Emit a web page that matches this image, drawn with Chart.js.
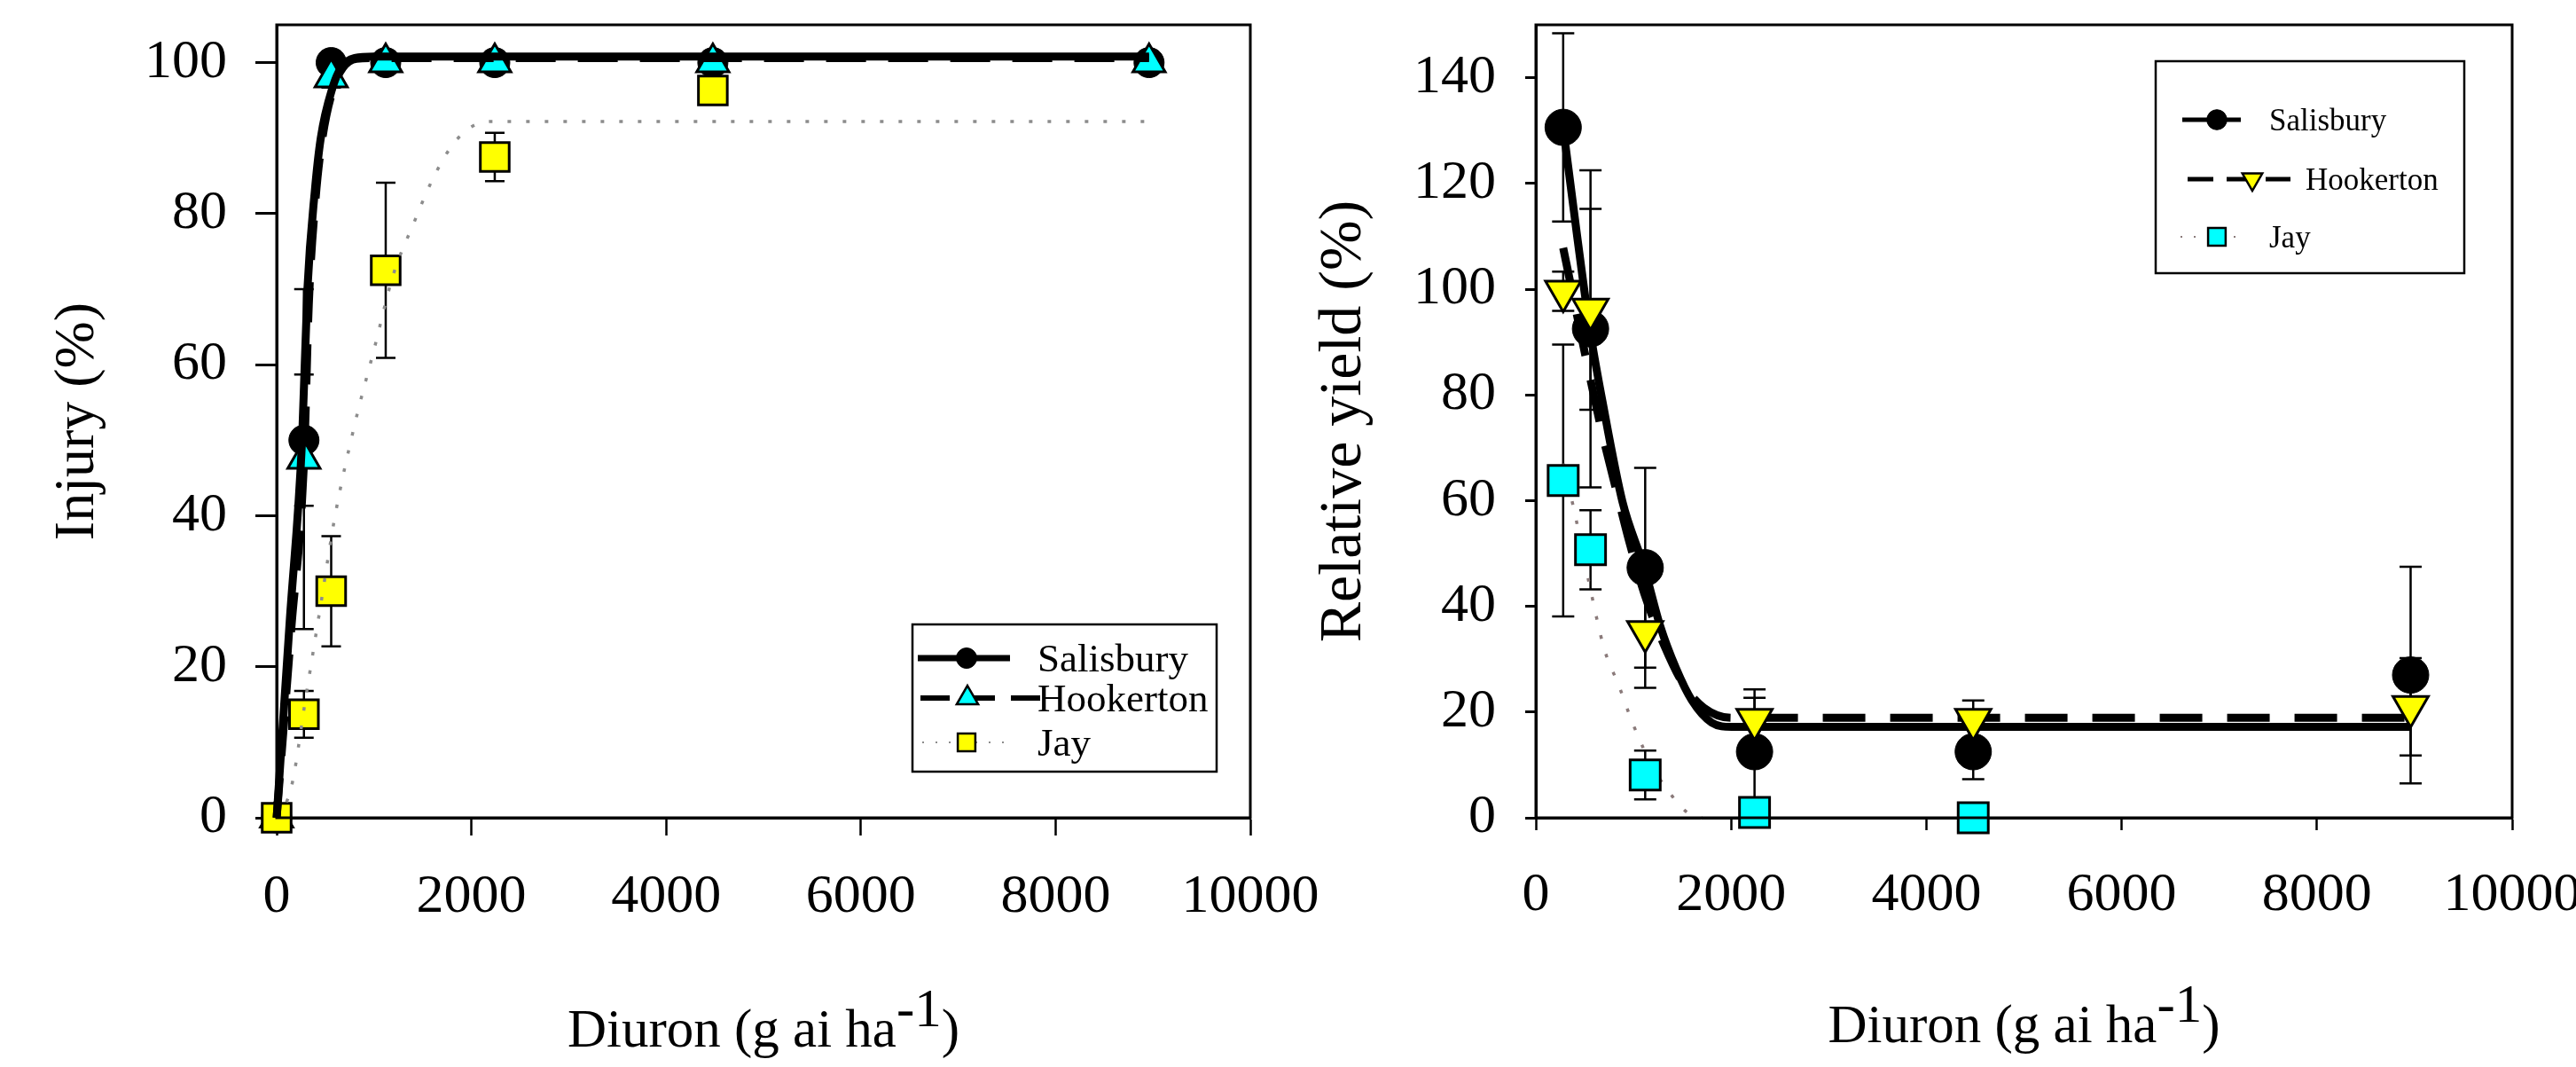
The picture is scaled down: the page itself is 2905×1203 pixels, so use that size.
<!DOCTYPE html>
<html><head><meta charset="utf-8">
<script src="https://cdn.jsdelivr.net/npm/chart.js@4.4.1/dist/chart.umd.min.js"></script>
<style>
html,body{margin:0;padding:0;background:#fff;overflow:hidden;width:2905px;height:1203px;}
#c1{position:absolute;left:0;top:0;}
#c2{position:absolute;left:1450px;top:0;}
</style></head><body>
<canvas id="c1" width="1530" height="1203"></canvas>
<canvas id="c2" width="1463" height="1203"></canvas>
<script>
// ---------- DATA ----------
const xTicks = [0, 2000, 4000, 6000, 8000, 10000];
const injuryTicks = [0, 20, 40, 60, 80, 100];
const yieldTicks = [0, 20, 40, 60, 80, 100, 120, 140];

// Injury (%) observations
const injuryRates = [0, 280, 560, 1120, 2240, 4480, 8960];
const injurySalisbury = [0, 50, 100, 100, 100, 100, 100];
const injurySalisburyErr = [0, 8.7, 0, 0, 0, 0, 0];
const injuryHookerton = [0, 47.5, 98, 100, 100, 100, 100];
const injuryHookertonErr = [0, 22.5, 1.3, 0, 0, 0, 0];
const injuryJay = [0, 13.7, 30, 72.5, 87.5, 96.3, null];
const injuryJayErr = [0, 3.1, 7.3, 11.6, 3.2, 0, 0];

// Injury fitted curves
const injFitSalisburyX = [0, 134, 261, 316, 392, 453, 574, 665, 802, 1000, 8960];
const injFitSalisburyY = [0, 26, 50, 70, 83, 90, 96.7, 99.4, 100.6, 100.8, 100.8];
const injFitHookertonX = [0, 150, 280, 330, 400, 470, 580, 680, 820, 1000, 8960];
const injFitHookertonY = [0, 25, 47, 68, 82, 90, 96.5, 99.3, 100.5, 100.6, 100.6];
const injFitJayX = [0, 150, 300, 450, 600, 800, 1000, 1200, 1400, 1600, 1800, 2000, 2200, 8960];
const injFitJayY = [0, 4, 16, 28, 40, 52, 62, 72, 78.5, 84.5, 89, 91.5, 92.2, 92.2];

// Relative yield (%) observations
const yieldRates = [280, 560, 1120, 2240, 4480, 8960];
const yieldSalisbury = [130.6, 92.5, 47.3, 12.5, 12.5, 27];
const yieldSalisburyErr = [17.8, 30, 18.9, 11.8, 5.2, 20.5];
const yieldHookerton = [99.6, 96.2, 35.2, 18.6, 18.6, 21];
const yieldHookertonErr = [3.7, 19, 10.6, 4.1, 3.6, 9.2];
const yieldJay = [63.8, 50.7, 8.1, 1, 0, null];
const yieldJayErr = [25.7, 7.5, 4.6, 0, 0, 0];

// Relative yield fitted curves
const yldFitSalisburyX = [280, 419, 554, 683, 887, 1110, 1273, 1435, 1598, 1801, 2004, 8960];
const yldFitSalisburyY = [130.6, 110.6, 92.3, 78.7, 59.8, 47.3, 36.3, 28.3, 22.2, 18, 17.2, 17.2];
const yldFitHookertonX = [280, 501, 664, 827, 969, 1111, 1315, 1519, 1722, 2005, 8960];
const yldFitHookertonY = [107.8, 88, 74, 61.7, 51.4, 42.4, 32.6, 25, 20.8, 18.9, 18.9];
const yldFitJayX = [280, 400, 550, 700, 850, 1000, 1200, 1400, 1580, 1700];
const yldFitJayY = [67, 57.5, 44, 32, 25, 17.5, 9.5, 4, 0.6, 0];

// ---------- HELPERS ----------
const FONT = '"Liberation Serif", "Times New Roman", serif';
function pts(xs, ys, es) {
  const out = [];
  xs.forEach((x, i) => { if (ys[i] !== null && ys[i] !== undefined) out.push({x: x, y: ys[i], e: es ? es[i] : 0}); });
  return out;
}

const errorBarPlugin = {
  id: 'errorBars',
  beforeDatasetsDraw(chart, args, o) {
    const ctx = chart.ctx, xs = chart.scales.x, ys = chart.scales.y;
    ctx.save(); ctx.strokeStyle = '#000'; ctx.lineWidth = o.lineWidth;
    chart.data.datasets.forEach(ds => {
      if (!ds.hasErrors) return;
      ds.data.forEach(p => {
        if (!p.e) return;
        const px = xs.getPixelForValue(p.x);
        const t = ys.getPixelForValue(p.y + p.e), b = ys.getPixelForValue(p.y - p.e);
        ctx.beginPath();
        ctx.moveTo(px, t); ctx.lineTo(px, b);
        ctx.moveTo(px - o.cap / 2, t); ctx.lineTo(px + o.cap / 2, t);
        ctx.moveTo(px - o.cap / 2, b); ctx.lineTo(px + o.cap / 2, b);
        ctx.stroke();
      });
    });
    ctx.restore();
  }
};

const framePlugin = {
  id: 'frame',
  afterDraw(chart, args, o) {
    const ctx = chart.ctx, a = chart.chartArea;
    ctx.save(); ctx.strokeStyle = '#000'; ctx.lineWidth = o.width;
    ctx.strokeRect(a.left, a.top, a.right - a.left, a.bottom - a.top);
    ctx.restore();
  }
};

const titlePlugin = {
  id: 'titles',
  afterDraw(chart, args, o) {
    const ctx = chart.ctx, a = chart.chartArea;
    ctx.save();
    ctx.fillStyle = '#000';
    ctx.font = o.ySize + 'px ' + FONT;
    ctx.translate(o.yX, (a.top + a.bottom) / 2);
    ctx.rotate(-Math.PI / 2);
    ctx.textAlign = 'center'; ctx.textBaseline = 'middle';
    ctx.fillText(o.yText, 0, 0);
    ctx.restore();

    ctx.save();
    ctx.fillStyle = '#000';
    ctx.font = o.xSize + 'px ' + FONT;
    ctx.textAlign = 'left'; ctx.textBaseline = 'alphabetic';
    const wa = ctx.measureText(o.xMain).width, ws = ctx.measureText(o.xSup).width, wc = ctx.measureText(o.xEnd).width;
    let x = (a.left + a.right) / 2 - (wa + ws + wc) / 2;
    ctx.fillText(o.xMain, x, o.xBase); x += wa;
    ctx.fillText(o.xSup, x, o.xBase - o.supRaise); x += ws;
    ctx.fillText(o.xEnd, x, o.xBase);
    ctx.restore();
  }
};

const boxLegendPlugin = {
  id: 'boxLegend',
  afterDraw(chart, args, o) {
    const ctx = chart.ctx;
    ctx.save();
    ctx.fillStyle = '#fff';
    ctx.fillRect(o.box[0], o.box[1], o.box[2] - o.box[0], o.box[3] - o.box[1]);
    ctx.strokeStyle = '#000'; ctx.lineWidth = o.boxLine;
    ctx.strokeRect(o.box[0], o.box[1], o.box[2] - o.box[0], o.box[3] - o.box[1]);
    o.rows.forEach(r => {
      const mk = chart.data.datasets.find(d => d.label === r.name);
      const cv = chart.data.datasets.find(d => d.label === r.name + ' fit');
      ctx.save();
      ctx.strokeStyle = cv.borderColor; ctx.lineWidth = r.lineWidth;
      ctx.setLineDash(r.dash || []);
      ctx.beginPath(); ctx.moveTo(r.x1, r.y); ctx.lineTo(r.x2, r.y); ctx.stroke();
      ctx.restore();
      ctx.save();
      ctx.fillStyle = mk.pointBackgroundColor; ctx.strokeStyle = mk.pointBorderColor; ctx.lineWidth = r.mbw;
      Chart.helpers.drawPoint(ctx, {pointStyle: mk.pointStyle, rotation: mk.pointRotation || 0, radius: r.radius, borderWidth: r.mbw}, r.mx, r.y);
      ctx.restore();
      ctx.fillStyle = '#000';
      ctx.font = o.fontSize + 'px ' + FONT;
      ctx.textAlign = 'left'; ctx.textBaseline = 'alphabetic';
      ctx.fillText(r.name, r.tx, r.y + o.fontSize * 0.33);
    });
    ctx.restore();
  }
};

function axisX(tickLen, pad, height) {
  return {
    type: 'linear', position: 'bottom', min: 0, max: 10000,
    afterBuildTicks: s => { s.ticks = xTicks.map(v => ({value: v})); },
    afterFit: s => { s.height = height; s.paddingLeft = 0; s.paddingRight = 0; },
    ticks: {font: {family: FONT, size: 62}, color: '#000', padding: pad, maxRotation: 0, autoSkip: false, callback: v => String(v)},
    grid: {display: true, drawOnChartArea: false, drawTicks: true, tickLength: tickLen, tickWidth: 2.5, tickColor: '#000', color: '#000'},
    border: {display: true, color: '#000', width: 3}
  };
}
function axisY(max, tickVals, tickLen, pad, width) {
  return {
    type: 'linear', position: 'left', min: 0, max: max,
    afterBuildTicks: s => { s.ticks = tickVals.map(v => ({value: v})); },
    afterFit: s => { s.width = width; s.paddingTop = 0; s.paddingBottom = 0; },
    ticks: {font: {family: FONT, size: 62}, color: '#000', padding: pad, autoSkip: false, callback: v => String(v)},
    grid: {display: true, drawOnChartArea: false, drawTicks: true, tickLength: tickLen, tickWidth: 3, tickColor: '#000', color: '#000'},
    border: {display: true, color: '#000', width: 3}
  };
}
function marker(label, data, style, radius, fill, bw, order, rot) {
  return {label: label, data: data, hasErrors: true, showLine: false, pointStyle: style, pointRadius: radius,
    pointRotation: rot || 0, pointBackgroundColor: fill, pointBorderColor: '#000', pointBorderWidth: bw,
    backgroundColor: fill, borderColor: '#000', order: order, clip: false};
}
function curve(label, data, color, width, dash, order) {
  return {label: label, data: data, showLine: true, pointRadius: 0, borderColor: color, borderWidth: width,
    borderDash: dash, cubicInterpolationMode: 'monotone', fill: false, order: order, clip: false};
}

const BLACK = '#000000', CYAN = '#00FFFF', YELLOW = '#FFFF00';

// ---------- LEFT CHART: Injury ----------
new Chart(document.getElementById('c1'), {
  type: 'scatter',
  data: {datasets: [
    marker('Salisbury', pts(injuryRates, injurySalisbury, injurySalisburyErr), 'circle', 17, BLACK, 1, 6),
    marker('Hookerton', pts(injuryRates, injuryHookerton, injuryHookertonErr), 'triangle', 21, CYAN, 3, 5),
    marker('Jay', pts(injuryRates, injuryJay, injuryJayErr), 'rect', 23, YELLOW, 3, 4),
    curve('Jay fit', pts(injFitJayX, injFitJayY), '#8c8c8c', 3.5, [4, 17], 3),
    curve('Hookerton fit', pts(injFitHookertonX, injFitHookertonY), BLACK, 9, [45, 25], 2),
    curve('Salisbury fit', pts(injFitSalisburyX, injFitSalisburyY), BLACK, 9, [], 1)
  ]},
  options: {
    responsive: false, animation: false, events: [],
    layout: {padding: {left: 0, top: 28, right: 120, bottom: 0}},
    scales: {x: axisX(20, 33, 281), y: axisY(105, injuryTicks, 24, 32, 312)},
    plugins: {
      legend: {display: false}, tooltip: {enabled: false},
      errorBars: {lineWidth: 2.5, cap: 22},
      frame: {width: 3},
      titles: {yText: 'Injury (%)', ySize: 64, yX: 88, xMain: 'Diuron (g ai ha', xSup: '-1', xEnd: ')', xSize: 61, xBase: 1180, supRaise: 23},
      boxLegend: {box: [1029, 704, 1372, 870], boxLine: 2.5, fontSize: 45, rows: [
        {name: 'Salisbury', y: 742, x1: 1035, x2: 1139, lineWidth: 7, dash: [], mx: 1090, radius: 11.5, mbw: 1, tx: 1170},
        {name: 'Hookerton', y: 787, x1: 1038, x2: 1178, lineWidth: 6, dash: [33, 18], mx: 1091, radius: 14, mbw: 2.5, tx: 1170},
        {name: 'Jay', y: 837, x1: 1040, x2: 1133, lineWidth: 2, dash: [2, 13], mx: 1090, radius: 14, mbw: 2.5, tx: 1170}
      ]}
    }
  },
  plugins: [errorBarPlugin, framePlugin, titlePlugin, boxLegendPlugin]
});

// ---------- RIGHT CHART: Relative yield ----------
new Chart(document.getElementById('c2'), {
  type: 'scatter',
  data: {datasets: [
    marker('Salisbury', pts(yieldRates, yieldSalisbury, yieldSalisburyErr), 'circle', 20.5, BLACK, 1, 3),
    marker('Hookerton', pts(yieldRates, yieldHookerton, yieldHookertonErr), 'triangle', 23, YELLOW, 3, 2, 180),
    marker('Jay', pts(yieldRates, yieldJay, yieldJayErr), 'rect', 24, CYAN, 3, 1),
    curve('Jay fit', pts(yldFitJayX, yldFitJayY), '#8a7a7a', 3.5, [4, 18], 6),
    curve('Hookerton fit', pts(yldFitHookertonX, yldFitHookertonY), BLACK, 9, [48, 28], 5),
    curve('Salisbury fit', pts(yldFitSalisburyX, yldFitSalisburyY), BLACK, 9, [], 4)
  ]},
  options: {
    responsive: false, animation: false, events: [],
    layout: {padding: {left: 0, top: 28, right: 80, bottom: 0}},
    scales: {x: axisX(14, 37, 281), y: axisY(150, yieldTicks, 12, 33, 282)},
    plugins: {
      legend: {display: false}, tooltip: {enabled: false},
      errorBars: {lineWidth: 2.5, cap: 25},
      frame: {width: 3},
      titles: {yText: 'Relative yield (%)', ySize: 68, yX: 66, xMain: 'Diuron (g ai ha', xSup: '-1', xEnd: ')', xSize: 61, xBase: 1175, supRaise: 23},
      boxLegend: {box: [981, 69, 1329, 308], boxLine: 2.5, fontSize: 35, rows: [
        {name: 'Salisbury', y: 135, x1: 1011, x2: 1077, lineWidth: 5, dash: [], mx: 1050, radius: 11.3, mbw: 1, tx: 1109},
        {name: 'Hookerton', y: 202, x1: 1017, x2: 1133, lineWidth: 5, dash: [29, 15], mx: 1090, radius: 13, mbw: 2.5, tx: 1150},
        {name: 'Jay', y: 267, x1: 1009, x2: 1072, lineWidth: 2, dash: [2, 13], mx: 1050, radius: 14, mbw: 2.5, tx: 1109}
      ]}
    }
  },
  plugins: [errorBarPlugin, framePlugin, titlePlugin, boxLegendPlugin]
});
</script>
</body></html>
